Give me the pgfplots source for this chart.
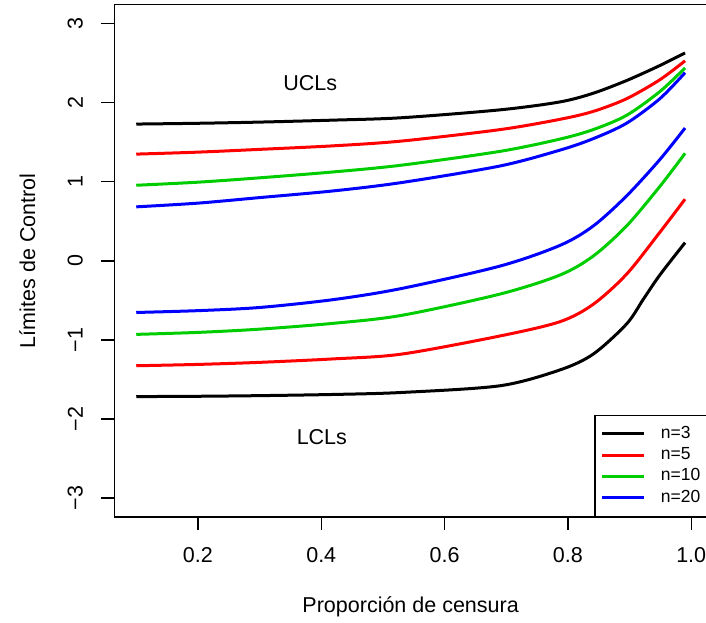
\documentclass[border=0pt]{standalone}
\usepackage{fontspec}
\setmainfont{Liberation Sans}
\usepackage{pgfplots}
\pgfplotsset{compat=1.18}
\definecolor{rred}{HTML}{FF0000}
\definecolor{rgreen}{HTML}{00CD00}
\definecolor{rblue}{HTML}{0000FF}
\begin{document}
\begin{tikzpicture}
\begin{axis}[name=ax,scale only axis,width=592.7pt,height=512.3pt,
  xmin=0.0644,xmax=1.0256,ymin=-3.24,ymax=3.24,
  font=\fontsize{21.5}{25}\selectfont,
  axis line style={line width=1.4pt},
  tick align=outside,tick pos=left,major tick length=13pt,
  every tick/.style={black,line width=1.4pt},
  xtick={0.2,0.4,0.6,0.8,1.0},xticklabels={0.2,0.4,0.6,0.8,1.0},
  ytick={-3,-2,-1,0,1,2,3},yticklabels={−3,−2,−1,0,1,2,3},
  xticklabel style={anchor=center,yshift=-25pt},
  yticklabel style={rotate=90,anchor=center,yshift=26pt},
  xlabel={Proporción de censura},ylabel={Límites de Control},
  xlabel style={at={(rel axis cs:0.5,0)},anchor=center,yshift=-90pt},
  ylabel style={at={(rel axis cs:0,0.5)},anchor=center,yshift=87pt},
  legend style={at={(rel axis cs:1,0)},anchor=south east,draw=black,line width=1.4pt,
    font=\fontsize{17.5}{21}\selectfont,inner xsep=6pt,inner ysep=10.5pt,
    row sep=5.3pt,column sep=15pt,
    nodes={inner sep=0pt,text height=12.5pt,text depth=3.5pt}},
  legend cell align=left,
  legend image code/.code={\path (0pt,0pt) -- (8pt,0pt);\draw[#1,line width=3pt] (8pt,0pt) -- (42pt,0pt);},
  every axis plot/.append style={line width=3pt,smooth,tension=0.5}]
% UCLs
\addplot[black] coordinates {(0.1,1.73) (0.2,1.74) (0.3,1.755) (0.42,1.78) (0.53,1.81) (0.69,1.91) (0.787,2.01) (0.841,2.12) (0.895,2.28) (0.949,2.47) (0.99,2.63)};
\addplot[rred] coordinates {(0.1,1.35) (0.2,1.375) (0.3,1.41) (0.42,1.455) (0.53,1.515) (0.69,1.66) (0.787,1.79) (0.841,1.89) (0.895,2.05) (0.949,2.29) (0.99,2.53)};
\addplot[rgreen] coordinates {(0.1,0.956) (0.2,0.995) (0.3,1.05) (0.42,1.125) (0.53,1.21) (0.69,1.385) (0.787,1.54) (0.841,1.66) (0.895,1.84) (0.949,2.14) (0.99,2.44)};
\addplot[rblue] coordinates {(0.1,0.683) (0.2,0.73) (0.3,0.80) (0.42,0.885) (0.53,0.99) (0.69,1.20) (0.787,1.40) (0.841,1.545) (0.895,1.74) (0.949,2.05) (0.99,2.38)};
% LCLs
\addplot[black,forget plot] coordinates {(0.1,-1.717) (0.2,-1.713) (0.3,-1.705) (0.42,-1.69) (0.53,-1.665) (0.69,-1.58) (0.787,-1.38) (0.841,-1.18) (0.895,-0.80) (0.922,-0.49) (0.949,-0.18) (0.99,0.23)};
\addplot[rred,forget plot] coordinates {(0.1,-1.327) (0.2,-1.31) (0.3,-1.284) (0.42,-1.24) (0.53,-1.18) (0.69,-0.95) (0.787,-0.77) (0.841,-0.55) (0.895,-0.17) (0.949,0.36) (0.99,0.78)};
\addplot[rgreen,forget plot] coordinates {(0.1,-0.93) (0.2,-0.905) (0.3,-0.864) (0.42,-0.79) (0.53,-0.69) (0.69,-0.42) (0.787,-0.18) (0.841,0.06) (0.895,0.44) (0.949,0.94) (0.99,1.36)};
\addplot[rblue,forget plot] coordinates {(0.1,-0.653) (0.2,-0.63) (0.3,-0.59) (0.42,-0.49) (0.53,-0.35) (0.69,-0.066) (0.787,0.195) (0.841,0.44) (0.895,0.82) (0.949,1.28) (0.99,1.68)};
\legend{n=3,n=5,n=10,n=20}
\node at (axis cs:0.382,2.25) {UCLs};
\node at (axis cs:0.401,-2.23) {LCLs};
\end{axis}
\pgfresetboundingbox
\path[use as bounding box] (ax.south west) ++(-114.3pt,-106pt) rectangle ++(706pt,623pt);
\end{tikzpicture}
\end{document}
